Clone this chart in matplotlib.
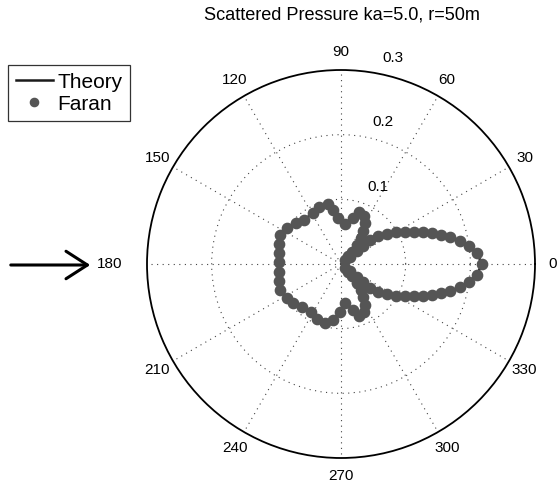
import numpy as np
import matplotlib
matplotlib.use("Agg")
import matplotlib.pyplot as plt

plt.rcParams['font.family'] = ['Liberation Sans', 'DejaVu Sans']

# Faran solution samples (angle in degrees, |p| )
faran_theta_deg = [
    0.0, 4.5, 8.0, 11.1, 14.0, 16.1, 18.6, 21.1, 23.9, 26.8, 30.1, 33.3, 36.9,
    39.0, 39.4, 38.8, 39.0, 44.0, 48.7, 49.0, 50.4, 52.1, 55.9, 60.1, 64.2,
    70.7, 75.8, 84.5, 93.4, 98.1, 102.6, 110.7, 119.2, 129.8, 138.0, 146.2,
    154.6, 162.4, 170.2, 177.9,
    187.1, 195.1, 203.1, 212.3, 219.5, 227.8, 237.8, 246.3, 254.9, 262.2,
    268.8, 276.0, 284.2, 289.3, 295.8, 299.9, 304.1, 307.9, 309.6, 311.0,
    311.3, 316.0, 321.0, 321.2, 320.6, 321.0, 323.1, 326.7, 329.9, 333.2,
    336.1, 338.9, 341.4, 343.9, 346.0, 348.9, 352.0, 355.5,
]
faran_r = [
    0.218, 0.211, 0.200, 0.187, 0.174, 0.161, 0.149, 0.136, 0.123, 0.111, 0.098, 0.085, 0.072,
    0.058, 0.045, 0.031, 0.018, 0.008, 0.017, 0.025, 0.038, 0.050, 0.062, 0.074, 0.083,
    0.086, 0.074, 0.062, 0.071, 0.084, 0.095, 0.095, 0.090, 0.089, 0.094, 0.101,
    0.104, 0.100, 0.097, 0.096,
    0.097, 0.099, 0.102, 0.099, 0.096, 0.089, 0.087, 0.093, 0.095, 0.087,
    0.074, 0.061, 0.074, 0.086, 0.083, 0.074, 0.062, 0.050, 0.038, 0.025,
    0.017, 0.008, 0.018, 0.031, 0.045, 0.058, 0.072, 0.085, 0.098, 0.111,
    0.123, 0.136, 0.149, 0.161, 0.174, 0.187, 0.200, 0.211,
]

# Theory curve (closed loop through the same read values)
theory_theta_deg = faran_theta_deg + [360.0]
theory_r = faran_r + [0.218]

angle_ticks = [0, 30, 60, 90, 120, 150, 180, 210, 240, 270, 300, 330]
angle_labels = ['0', '30', '60', '90', '120', '150', '180', '210', '240', '270', '300', '330']
r_ticks = [0.1, 0.2, 0.3]
r_labels = ['0.1', '0.2', '0.3']
title = 'Scattered Pressure ka=5.0, r=50m'

fig = plt.figure(figsize=(5.58, 4.92), dpi=100)
ax = fig.add_axes([147/558, 34/492, 388/558, 388/492], projection='polar')
ax.set_rlim(0, 0.3)

grid_kw = dict(color='#444444', linestyle=(0, (1, 4)), linewidth=0.8)
ax.set_thetagrids(angle_ticks, labels=[''] * len(angle_ticks))
ax.set_rgrids(r_ticks[:-1], labels=[''] * (len(r_ticks) - 1))
ax.grid(True, **grid_kw)
ax.spines['polar'].set_linewidth(1.3)
ax.spines['polar'].set_color('black')
ax.tick_params(length=0)

th_line = np.deg2rad(theory_theta_deg)
ax.plot(th_line, theory_r, color='#1a1a1a', lw=1.8, label='Theory', zorder=3)
ax.plot(np.deg2rad(faran_theta_deg), faran_r, linestyle='none', marker='o',
        markersize=7.4, color='#555555', markeredgecolor='#555555', label='Faran', zorder=4)

# angle labels
for a, lab in zip(angle_ticks, angle_labels):
    rr = 0.328
    if a == 180:
        rr = 0.358
    ax.text(np.deg2rad(a), rr, lab, ha='center', va='center', fontsize=11,
            clip_on=False)

# radial labels
r_label_pos = [(64.3, 0.132), (73.5, 0.229), (75.8, 0.328)]
for (a, rr), lab in zip(r_label_pos, r_labels):
    ax.text(np.deg2rad(a), rr, lab, ha='center', va='center', fontsize=11,
            clip_on=False)

fig.text(342/558, 1 - 15/492, title, ha='center', va='center', fontsize=13.1)

leg = fig.legend(loc='upper left', bbox_to_anchor=(8/558, 1 - 65/492),
                 frameon=True, fancybox=False, fontsize=15, handlelength=1.8,
                 handletextpad=0.22, borderpad=0.36, labelspacing=0.15,
                 borderaxespad=0, markerscale=0.8)
leg.get_frame().set_edgecolor('black')
leg.get_frame().set_linewidth(0.9)

# incident-wave arrow
fig.patches.append(matplotlib.patches.FancyArrowPatch(
    (8/558, 1 - 265/492), (93/558, 1 - 265/492), transform=fig.transFigure,
    arrowstyle='->,head_length=0.7,head_width=0.45', mutation_scale=22, lw=2.2,
    color='black'))

fig.savefig('out.png', dpi=100)
